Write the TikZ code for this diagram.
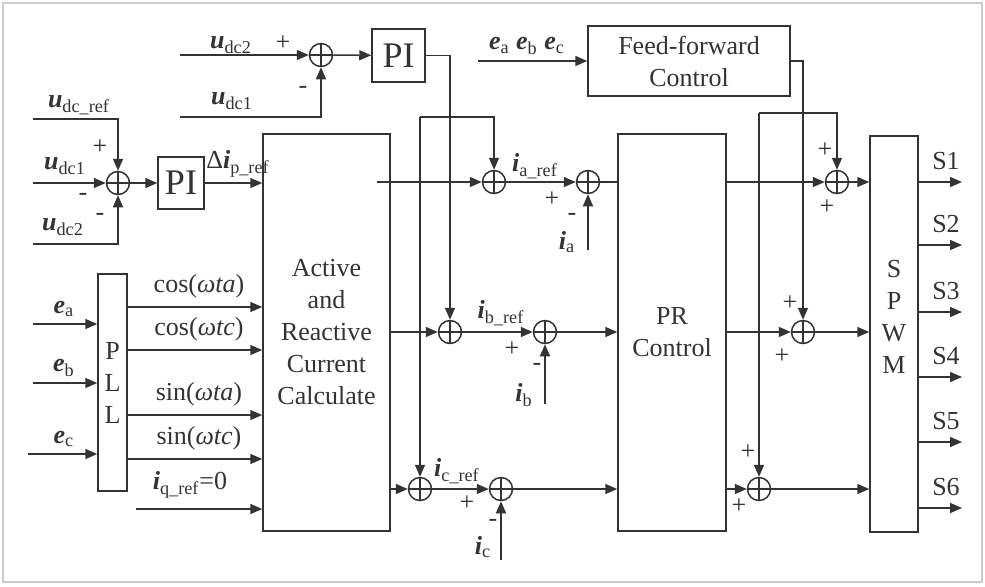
\documentclass[tikz,border=0pt]{standalone}
\usepackage{fontspec}
\setmainfont{Liberation Serif}
\usetikzlibrary{arrows.meta}

\def\LineCol{black!80}
\def\Var#1#2{{\bfseries\itshape #1}\textsubscript{#2}}

\begin{document}
\begin{tikzpicture}[x=0.5pt,y=-0.5pt,line width=0.75pt,color=\LineCol,
  font=\fontsize{13}{16}\selectfont,
  box/.style={draw,rectangle,inner sep=0pt,align=center},
  sumc/.style={draw,circle,minimum size=11.5pt,inner sep=0pt,
    path picture={\draw[line width=0.6pt]
      (path picture bounding box.north) -- (path picture bounding box.south)
      (path picture bounding box.west) -- (path picture bounding box.east);}},
  arr/.style={-{Triangle[length=6pt,width=5pt]}},
  sgn/.style={inner sep=0pt}]
  \useasboundingbox (0,0) rectangle (985,586);
  \draw[gray!40,line width=0.8pt] (3,3) rectangle (982,582);

  % --- Bloques ---
  \node[box,minimum width=26.5pt,minimum height=26.5pt,font=\fontsize{18}{20}\selectfont] (piT) at (398.5,55.5) {PI};
  \node[box,minimum width=23pt,minimum height=26pt,font=\fontsize{18}{20}\selectfont] (piL) at (181,183) {PI};
  \node[box,minimum width=63.5pt,minimum height=198.5pt] (acc) at (326.5,332.5) {Active\\and\\Reactive\\Current\\Calculate};
  \node[box,minimum width=14.5pt,minimum height=108.5pt] (pll) at (112.5,382.5) {P\\L\\L};
  \node[box,minimum width=54pt,minimum height=198.5pt] (pr) at (672,332.5) {PR\\Control};
  \node[box,minimum width=101pt,minimum height=35pt] (ff) at (689,61) {Feed-forward\\Control};
  \node[box,minimum width=24pt,minimum height=198pt] (spwm) at (894,334) {};
  \node[align=center] (spwmtxt) at (894,317) {S\\P\\W\\M};

  % --- Sumadores ---
  \node[sumc] (sumT) at (321,55) {};
  \node[sumc] (sumL) at (118,183) {};
  \node[sumc] (sa1) at (494,182) {};
  \node[sumc] (sa2) at (588,182) {};
  \node[sumc] (sb1) at (450,332) {};
  \node[sumc] (sb2) at (545,332) {};
  \node[sumc] (sc1) at (420,489) {};
  \node[sumc] (sc2) at (501,489) {};
  \node[sumc] (sa3) at (837,182) {};
  \node[sumc] (sb3) at (803,332) {};
  \node[sumc] (sc3) at (759,489) {};

  % --- Lazo de tension ---
  \coordinate (udcTa) at (180,55);
  \coordinate (udcTb) at (180,117);
  \draw[arr] (udcTa) -- (sumT.west);
  \draw[arr] (udcTb) -| (sumT.south);
  \draw[arr] (sumT) -- (piT);
  \draw[arr] (piT.east) -| (sb1.north);
  \coordinate (brP) at (420,117);
  \draw[arr] (brP) -| (sa1.north);
  \draw[arr] (brP) -- (sc1.north);
  \node (lUdcTa) at (231,45) {\Var{u}{dc2}};
  \node (lUdcTb) at (232,101) {\Var{u}{dc1}};
  \node[sgn] (sT1) at (283,43) {+};
  \node[sgn] (sT2) at (303,90) {-};

  \coordinate (uref) at (33,119);
  \coordinate (uLa) at (33,183);
  \coordinate (uLb) at (33,244);
  \draw[arr] (uref) -| (sumL.north);
  \draw[arr] (uLa) -- (sumL.west);
  \draw[arr] (uLb) -| (sumL.south);
  \draw[arr] (sumL) -- (piL);
  \draw[arr] (piL.east) -- (acc.west |- piL.east);
  \node (lUref) at (79,105) {\Var{u}{dc\_ref}};
  \node (lULa) at (65,166) {\Var{u}{dc1}};
  \node (lULb) at (63,227) {\Var{u}{dc2}};
  \node[sgn] (sL1) at (100,147) {+};
  \node[sgn] (sL2) at (83,197) {-};
  \node[sgn] (sL3) at (100,217) {-};
  \node (lDip) at (238,164) {Δ\Var{i}{p\_ref}};

  % --- PLL ---
  \foreach \x/\y/\n in {33/324/a,33/383/b,28/454/c}
  {
    \coordinate (e\n) at (\x,\y);
    \draw[arr] (e\n) -- (pll.west |- e\n);
    \node (le\n) at (64,\y-15) {\Var{e}{\n}};
  }
  \foreach \y/\t in {307/cos(\textit{ωta}),350/cos(\textit{ωtc}),415/sin(\textit{ωta}),459/sin(\textit{ωtc})}
  {
    \draw[arr] (pll.east |- 0,\y) -- (acc.west |- 0,\y);
    \node at (199,\y-21) {\t};
  }
  \coordinate (iq) at (136,509);
  \draw[arr] (iq) -- (acc.west |- iq);
  \node (lIq) at (190,485) {\Var{i}{q\_ref}=0};

  % --- Lazos de corriente ---
  \draw[arr] ([xshift=-7pt]acc.east |- sa1) -- (sa1);
  \draw[arr] (acc.east |- sb1) -- (sb1);
  \draw[arr] (acc.east |- sc1) -- (sc1);
  \draw[arr] (sa1) -- (sa2);
  \draw[arr] (sb1) -- (sb2);
  \draw[arr] (sc1) -- (sc2);
  \draw (sa2) -- (pr.west |- sa2);
  \draw[arr] (sb2) -- (pr.west |- sb2);
  \draw[arr] (sc2) -- (pr.west |- sc2);
  \coordinate (ia) at (588,250);
  \coordinate (ib) at (545,404);
  \coordinate (ic) at (501,560);
  \draw[arr] (ia) -- (sa2.south);
  \draw[arr] (ib) -- (sb2.south);
  \draw[arr] (ic) -- (sc2.south);
  \node (lIaref) at (535,166) {\Var{i}{a\_ref}};
  \node (lIbref) at (501,313) {\Var{i}{b\_ref}};
  \node (lIcref) at (457,471) {\Var{i}{c\_ref}};
  \node (lIa) at (567,242) {\Var{i}{a}};
  \node (lIb) at (524,395) {\Var{i}{b}};
  \node (lIc) at (483,547) {\Var{i}{c}};
  \node[sgn] (sa2p) at (552,199) {+};
  \node[sgn] (sa2m) at (572,217) {-};
  \node[sgn] (sb2p) at (512,349) {+};
  \node[sgn] (sb2m) at (537,367) {-};
  \node[sgn] (sc2p) at (467,503) {+};
  \node[sgn] (sc2m) at (493,523) {-};

  % --- Prealimentacion ---
  \coordinate (eabc) at (478,61);
  \draw[arr] (eabc) -- (ff.west);
  \node (lEabc) at (527,46) {\Var{e}{a}~\Var{e}{b}~\Var{e}{c}};
  \draw[arr] (ff.east) -| (sb3.north);
  \coordinate (brF) at (759,113);
  \draw[arr] (brF) -| (sa3.north);
  \draw[arr] (brF) -- (sc3.north);
  \draw[arr] (pr.east |- sa3) -- (sa3);
  \draw[arr] (pr.east |- sb3) -- (sb3);
  \draw[arr] (pr.east |- sc3) -- (sc3);
  \draw[arr] (sa3) -- (spwm.west |- sa3);
  \draw[arr] (sb3) -- (spwm.west |- sb3);
  \draw[arr] (sc3) -- (spwm.west |- sc3);
  \node[sgn] (sa3p) at (825,150) {+};
  \node[sgn] (sa3q) at (827,207) {+};
  \node[sgn] (sb3p) at (790,303) {+};
  \node[sgn] (sb3q) at (782,356) {+};
  \node[sgn] (sc3p) at (748,452) {+};
  \node[sgn] (sc3q) at (739,506) {+};

  % --- Salidas SPWM ---
  \foreach \y/\n in {182/1,245/2,312/3,377/4,442/5,508/6}
  {
    \coordinate (out\n) at (962,\y);
    \draw[arr] (spwm.east |- out\n) -- (out\n);
    \node (lS\n) at (946,\y-21) {S\n};
  }
\end{tikzpicture}
\end{document}
